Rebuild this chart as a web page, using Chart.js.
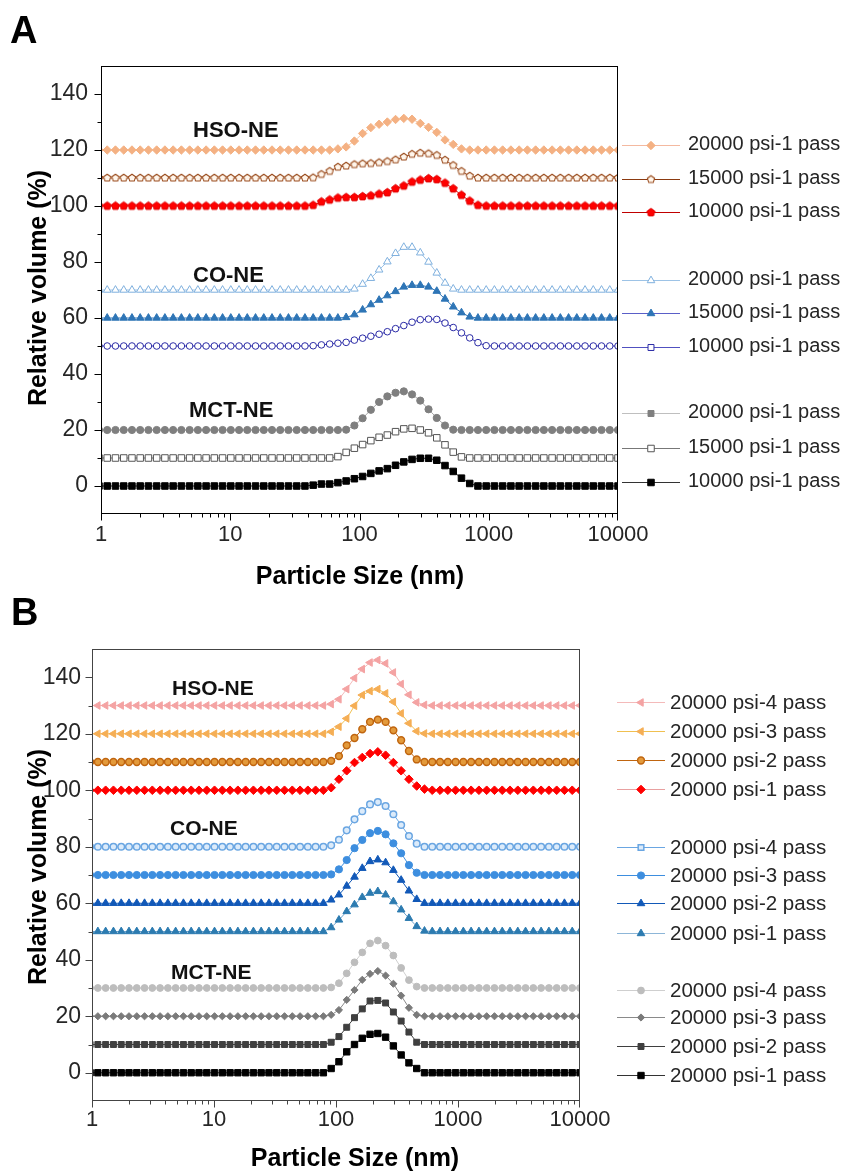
<!DOCTYPE html>
<html><head><meta charset="utf-8">
<script src="https://cdn.jsdelivr.net/npm/chart.js@4.4.0/dist/chart.umd.min.js"></script>
<style>
html,body{margin:0;padding:0;background:#fff;}
#wrap{position:relative;width:846px;height:1173px;overflow:hidden;background:#fff}
.pane{position:absolute;left:0;width:846px}
#pa{top:0;height:590px}
#pb{top:590px;height:583px}
canvas{display:block}
</style></head><body>
<div id="wrap">
<div class="pane" id="pa"><canvas id="ca" width="846" height="590"></canvas></div>
<div class="pane" id="pb"><canvas id="cb" width="846" height="583"></canvas></div>
</div>
<script>
// ---------------- DATA ----------------
// particle size bins (nm), log-spaced instrument bins
const sizeNm = [0.9649,1.117,1.294,1.499,1.736,2.010,2.328,2.696,3.122,3.615,4.187,4.849,5.615,6.503,7.531,8.721,
 10.10,11.70,13.54,15.69,18.17,21.04,24.36,28.21,32.67,37.84,43.82,50.75,58.77,68.06,78.82,91.28,
 105.7,122.4,141.8,164.2,190.1,220.2,255.0,295.3,342.0,396.1,458.7,531.2,615.1,712.4,825.0,955.4,
 1106,1281,1484,1718,1990,2305,2669,3091,3580,4145,4801,5560,6439,7456,8635,10000];

const xTickValues = [1,10,100,1000,10000];
const yTickValues = [0,20,40,60,80,100,120,140];
const groupLabels = ['HSO-NE','CO-NE','MCT-NE'];

// Panel A: relative volume (%) per bin, before vertical offset
const aHso20000 = [0,0,0,0,0,0,0,0,0,0,0,0,0,0,0,0,0,0,0,0,0,0,0,0,0,
 0,0,0,0,0.4,1.1,3.2,5.9,8.0,9.2,10.0,10.9,11.3,11.0,9.5,8.1,6.3,3.6,2.0,0.4,0,0,0,0,0,
 0,0,0,0,0,0,0,0,0,0,0,0,0,0];
const aHso15000 = [0,0,0,0,0,0,0,0,0,0,0,0,0,0,0,0,0,0,0,0,0,0,0,0,0,
 0,0.1,1.3,2.4,3.9,4.3,4.8,5.1,5.2,5.5,5.9,6.5,7.5,8.5,8.9,8.7,8.1,6.4,4.5,2.4,0.7,0,0,0,0,
 0,0,0,0,0,0,0,0,0,0,0,0,0,0];
const aHso10000 = [0,0,0,0,0,0,0,0,0,0,0,0,0,0,0,0,0,0,0,0,0,0,0,0,0,
 0,0.3,1.5,2.2,2.9,3.1,3.1,3.4,3.7,4.3,4.8,6.2,7.2,8.6,9.3,9.8,9.5,8.2,6.2,3.9,1.8,0.3,0,0,0,
 0,0,0,0,0,0,0,0,0,0,0,0,0,0];
const aCo20000 = [0,0,0,0,0,0,0,0,0,0,0,0,0,0,0,0,0,0,0,0,0,0,0,0,0,
 0,0,0,0,0,0,0.4,2.1,4.2,7.2,10.1,13.1,15.3,15.3,13.3,10.0,6.1,2.5,0.4,0,0,0,0,0,0,
 0,0,0,0,0,0,0,0,0,0,0,0,0,0];
const aCo15000 = [0,0,0,0,0,0,0,0,0,0,0,0,0,0,0,0,0,0,0,0,0,0,0,0,0,
 0,0,0,0,0,0.2,1.2,2.9,4.8,6.4,8.0,9.5,11.1,11.7,11.7,11.1,9.6,6.8,4.0,1.9,0.4,0,0,0,0,
 0,0,0,0,0,0,0,0,0,0,0,0,0,0];
const aCo10000 = [0,0,0,0,0,0,0,0,0,0,0,0,0,0,0,0,0,0,0,0,0,0,0,0,0,
 0,0.1,0.4,0.7,1.0,1.3,2.1,2.8,3.5,4.2,5.1,6.2,7.3,8.5,9.4,9.6,9.5,8.2,6.6,4.7,2.9,1.2,0.1,0,0,
 0,0,0,0,0,0,0,0,0,0,0,0,0,0];
const aMct20000 = [0,0,0,0,0,0,0,0,0,0,0,0,0,0,0,0,0,0,0,0,0,0,0,0,0,
 0,0,0,0,0,0.1,1.6,4.2,7.2,10.0,12.0,13.3,13.8,12.7,10.5,7.4,4.3,1.6,0.1,0,0,0,0,0,0,
 0,0,0,0,0,0,0,0,0,0,0,0,0,0];
const aMct15000 = [0,0,0,0,0,0,0,0,0,0,0,0,0,0,0,0,0,0,0,0,0,0,0,0,0,
 0,0,0,0,0.5,2.0,3.5,4.8,6.2,7.4,8.2,9.4,10.4,10.6,10.0,9.0,7.2,4.7,2.1,0.4,0,0,0,0,0,
 0,0,0,0,0,0,0,0,0,0,0,0,0,0];
const aMct10000 = [0,0,0,0,0,0,0,0,0,0,0,0,0,0,0,0,0,0,0,0,0,0,0,0,0,
 0,0.3,0.7,0.7,1.2,1.8,2.6,3.4,4.5,5.4,6.2,7.4,8.6,9.5,9.9,9.9,9.2,7.3,5.2,2.8,0.9,0,0,0,0,
 0,0,0,0,0,0,0,0,0,0,0,0,0,0];
const offsetsA = [120,110,100,70,60,50,20,10,0];
const legendA = ['20000 psi-1 pass','15000 psi-1 pass','10000 psi-1 pass',
                 '20000 psi-1 pass','15000 psi-1 pass','10000 psi-1 pass',
                 '20000 psi-1 pass','15000 psi-1 pass','10000 psi-1 pass'];

// Panel B
const bHso4 = [0,0,0,0,0,0,0,0,0,0,0,0,0,0,0,0,0,0,0,0,0,0,0,0,0,
 0,0,0,0,0,0,0.5,2.2,5.8,9.7,12.9,15.2,16.1,14.9,11.7,7.6,3.8,1.1,0.2,0,0,0,0,0,0,
 0,0,0,0,0,0,0,0,0,0,0,0,0,0];
const bHso3 = [0,0,0,0,0,0,0,0,0,0,0,0,0,0,0,0,0,0,0,0,0,0,0,0,0,
 0,0,0,0,0,0,0.7,2.5,5.4,9.9,13.7,15.1,15.8,14.3,11.3,7.2,3.7,0.9,0.1,0,0,0,0,0,0,
 0,0,0,0,0,0,0,0,0,0,0,0,0,0];
const bHso2 = [0,0,0,0,0,0,0,0,0,0,0,0,0,0,0,0,0,0,0,0,0,0,0,0,0,
 0,0,0,0,0,0,0.4,2.1,5.9,8.5,11.6,14.2,15.0,14.2,11.2,7.7,3.9,0.9,0,0,0,0,0,0,0,
 0,0,0,0,0,0,0,0,0,0,0,0,0,0];
const bHso1 = [0,0,0,0,0,0,0,0,0,0,0,0,0,0,0,0,0,0,0,0,0,0,0,0,0,
 0,0,0,0,0,0,0.9,3.9,6.9,9.8,11.6,13.0,13.6,12.4,9.8,6.9,3.9,1.5,0.4,0,0,0,0,0,0,
 0,0,0,0,0,0,0,0,0,0,0,0,0,0];
const bCo4 = [0,0,0,0,0,0,0,0,0,0,0,0,0,0,0,0,0,0,0,0,0,0,0,0,0,
 0,0,0,0,0,0,0.5,2.5,5.8,9.7,12.6,15.0,15.8,14.4,11.5,7.7,3.8,1.1,0,0,0,0,0,0,0,
 0,0,0,0,0,0,0,0,0,0,0,0,0,0];
const bCo3 = [0,0,0,0,0,0,0,0,0,0,0,0,0,0,0,0,0,0,0,0,0,0,0,0,0,
 0,0,0,0,0,0,0.2,2.0,5.3,9.5,12.4,14.8,15.6,14.4,11.2,7.7,3.5,0.8,0,0,0,0,0,0,0,
 0,0,0,0,0,0,0,0,0,0,0,0,0,0];
const bCo2 = [0,0,0,0,0,0,0,0,0,0,0,0,0,0,0,0,0,0,0,0,0,0,0,0,0,
 0,0,0,0,0,0,1.2,3.0,6.1,9.3,12.4,14.8,15.4,14.4,11.7,8.2,4.4,1.4,0,0,0,0,0,0,0,
 0,0,0,0,0,0,0,0,0,0,0,0,0,0];
const bCo1 = [0,0,0,0,0,0,0,0,0,0,0,0,0,0,0,0,0,0,0,0,0,0,0,0,0,
 0,0,0,0,0,0,1.4,4.1,7.1,9.5,12.1,13.6,14.2,13.0,10.6,7.7,4.7,1.8,0.2,0,0,0,0,0,0,
 0,0,0,0,0,0,0,0,0,0,0,0,0,0];
const bMct4 = [0,0,0,0,0,0,0,0,0,0,0,0,0,0,0,0,0,0,0,0,0,0,0,0,0,
 0,0,0,0,0,0,0.2,1.7,5.2,9.1,12.6,15.8,16.8,15.0,11.5,7.1,2.8,0.5,0,0,0,0,0,0,0,
 0,0,0,0,0,0,0,0,0,0,0,0,0,0];
const bMct3 = [0,0,0,0,0,0,0,0,0,0,0,0,0,0,0,0,0,0,0,0,0,0,0,0,0,
 0,0,0,0,0,0,0.5,2.2,5.8,9.3,12.9,15.0,16.0,14.4,11.5,7.3,3.0,0.5,0,0,0,0,0,0,0,
 0,0,0,0,0,0,0,0,0,0,0,0,0,0];
const bMct2 = [0,0,0,0,0,0,0,0,0,0,0,0,0,0,0,0,0,0,0,0,0,0,0,0,0,
 0,0,0,0,0,0,0.8,2.8,6.1,9.5,12.6,15.4,15.6,14.7,11.5,8.3,4.4,0.8,0,0,0,0,0,0,0,
 0,0,0,0,0,0,0,0,0,0,0,0,0,0];
const bMct1 = [0,0,0,0,0,0,0,0,0,0,0,0,0,0,0,0,0,0,0,0,0,0,0,0,0,
 0,0,0,0,0,0,1.5,3.9,7.4,10.0,12.2,13.6,13.9,12.6,9.5,6.3,3.5,1.5,0,0,0,0,0,0,0,
 0,0,0,0,0,0,0,0,0,0,0,0,0,0];
const offsetsB = [130,120,110,100,80,70,60,50,30,20,10,0];
const legendB = ['20000 psi-4 pass','20000 psi-3 pass','20000 psi-2 pass','20000 psi-1 pass',
                 '20000 psi-4 pass','20000 psi-3 pass','20000 psi-2 pass','20000 psi-1 pass',
                 '20000 psi-4 pass','20000 psi-3 pass','20000 psi-2 pass','20000 psi-1 pass'];

// ---------------- STYLE ----------------
const FONT = '"Liberation Sans", Arial, Helvetica, sans-serif';

function polyMarker(n, r, fill, stroke, lw){
  const s = Math.ceil(2*r + lw + 3);
  const c = document.createElement('canvas'); c.width = s; c.height = s;
  const g = c.getContext('2d'); g.beginPath();
  for (let i=0;i<n;i++){
    const a = -Math.PI/2 + i*2*Math.PI/n;
    const px = s/2 + r*Math.cos(a), py = s/2 + r*Math.sin(a);
    if (i) g.lineTo(px,py); else g.moveTo(px,py);
  }
  g.closePath(); g.fillStyle = fill; g.fill();
  if (lw){ g.lineWidth = lw; g.strokeStyle = stroke; g.stroke(); }
  return c;
}

const stylesA = [
  {ps:'rectRot', r:4.2, fill:'#F4B183', stroke:'#F4B183', bw:1, line:'#F8C9A8', legLine:'#F4B9A0'},
  {ps:polyMarker(5,3.8,'#FFF6EC','#9A4B1C',1.1), r:4, fill:'#fff', stroke:'#9A4B1C', bw:1, line:'#A0522D', legLine:'#8B3A10'},
  {ps:polyMarker(5,4.2,'#FF0000','#E00000',1), r:4, fill:'#FF0000', stroke:'#E00000', bw:1, line:'#E00000', legLine:'#C00000'},
  {ps:'triangle', r:4.4, fill:'#FFFFFF', stroke:'#7FB0DE', bw:1, line:'#9DC3E6', legLine:'#9DC3E6'},
  {ps:'triangle', r:4.4, fill:'#2E75B6', stroke:'#2E75B6', bw:1, line:'#2E75B6', legLine:'#5A5FC8'},
  {ps:'circle', r:3.3, fill:'#FFFFFF', stroke:'#2B2BA6', bw:1, line:'#3535B0', legLine:'#5050C0', legPs:'rect', legR:4.2},
  {ps:'circle', r:3.6, fill:'#7F7F7F', stroke:'#7F7F7F', bw:1, line:'#A6A6A6', legLine:'#BFBFBF', legPs:'rect', legR:4.2},
  {ps:'rect', r:4.6, fill:'#FFFFFF', stroke:'#555555', bw:1, line:'#666666', legLine:'#777777'},
  {ps:'rect', r:4.6, fill:'#000000', stroke:'#000000', bw:1, line:'#222222', legLine:'#333333'}
];
const stylesB = [
  {ps:'triangle', rot:-90, r:4.4, fill:'#F4A3A3', stroke:'#F4A3A3', bw:1, line:'#F4BABA'},
  {ps:'triangle', rot:-90, r:4.4, fill:'#F5AE55', stroke:'#F5AE55', bw:1, line:'#F0C050'},
  {ps:'circle', r:3.4, fill:'#E39A3B', stroke:'#C0650F', bw:1.5, line:'#C0650F'},
  {ps:'rectRot', r:4.3, fill:'#FF0000', stroke:'#FF0000', bw:1, line:'#F07070', legLine:'#E8A0A0'},
  {ps:'circle', r:3.3, fill:'#DCEBFA', stroke:'#6AA6E2', bw:1.5, line:'#6AA6E2', legPs:'rect', legR:4},
  {ps:'circle', r:3.6, fill:'#3D8EDF', stroke:'#3D8EDF', bw:1, line:'#3D8EDF'},
  {ps:'triangle', r:4.4, fill:'#1259B8', stroke:'#1259B8', bw:1, line:'#1259B8'},
  {ps:'triangle', r:4.4, fill:'#2C7BB0', stroke:'#2C7BB0', bw:1, line:'#6FA2CC', legLine:'#8DB6D8'},
  {ps:'circle', r:3.4, fill:'#BDBDBD', stroke:'#BDBDBD', bw:1, line:'#CFCFCF'},
  {ps:'rectRot', r:3.6, fill:'#7A7A7A', stroke:'#7A7A7A', bw:1, line:'#8A8A8A'},
  {ps:'rect', r:4.2, fill:'#3F3F3F', stroke:'#3F3F3F', bw:1, line:'#3F3F3F'},
  {ps:'rect', r:4.5, fill:'#000000', stroke:'#000000', bw:1, line:'#333333'}
];

const panelA = {
  canvas:'ca', values:[aHso20000,aHso15000,aHso10000,aCo20000,aCo15000,aCo10000,aMct20000,aMct15000,aMct10000],
  offsets:offsetsA, legend:legendA, styles:stylesA,
  yW:101, xH:76, padT:66, padR:228, xPad:8, yPad:13, xTickSize:22, yTickSize:23, axisColor:'#000',
  yTitle:{x:46, y:288, size:25}, xTitle:{x:360, y:584, size:25},
  letter:{x:10, y:43, t:'A'},
  groups:[{x:193,y:137},{x:193,y:282},{x:189,y:417}], groupSize:22,
  leg:{x0:622, x1:680, mx:651, tx:688, dy:5, size:20, ys:[145,179,212,280,313,347,413,448,482]}
};
const panelB = {
  canvas:'cb', values:[bHso4,bHso3,bHso2,bHso1,bCo4,bCo3,bCo2,bCo1,bMct4,bMct3,bMct2,bMct1],
  offsets:offsetsB, legend:legendB, styles:stylesB,
  yW:92, xH:72, padT:59, padR:266, xPad:6, yPad:11, xTickSize:22, yTickSize:23, axisColor:'#444',
  yTitle:{x:46, y:277, size:25}, xTitle:{x:355, y:576, size:25},
  letter:{x:11, y:35, t:'B'},
  groups:[{x:172,y:105},{x:170,y:245},{x:171,y:389}], groupSize:21,
  leg:{x0:617, x1:665, mx:641, tx:670, dy:7, size:20.5, ys:[112,141,170,199,257,285,313,343,400,427,456,485]}
};

// ---------------- DRAWING ----------------
function drawMarker(ctx, st, x, y){
  const ps = st.legPs || st.ps;
  const r = st.legR || st.r;
  if (typeof ps !== 'string'){ ctx.drawImage(ps, x - ps.width/2, y - ps.height/2); return; }
  ctx.save();
  ctx.fillStyle = st.fill; ctx.strokeStyle = st.stroke; ctx.lineWidth = st.bw;
  ctx.beginPath();
  const rad = (st.rot||0)*Math.PI/180;
  if (ps === 'circle') ctx.arc(x,y,r,0,2*Math.PI);
  else if (ps === 'rect'){ const s = r*Math.SQRT1_2; ctx.rect(x-s,y-s,2*s,2*s); }
  else if (ps === 'rectRot'){ ctx.moveTo(x,y-r); ctx.lineTo(x+r,y); ctx.lineTo(x,y+r); ctx.lineTo(x-r,y); }
  else if (ps === 'triangle'){
    for (let i=0;i<3;i++){ const a = rad + i*2*Math.PI/3; const px = x+Math.sin(a)*r, py = y-Math.cos(a)*r; if(i) ctx.lineTo(px,py); else ctx.moveTo(px,py); }
  }
  ctx.closePath(); ctx.fill(); if (st.bw>0) ctx.stroke();
  ctx.restore();
}

function decoPlugin(P){
  return {
    id:'deco'+P.canvas,
    afterDraw(chart){
      const ctx = chart.ctx, ca = chart.chartArea, xs = chart.scales.x, ys = chart.scales.y;
      ctx.save();
      // frame
      ctx.strokeStyle = P.axisColor; ctx.lineWidth = 1;
      const L = Math.round(ca.left)+0.5, R = Math.round(ca.right)-0.5, T = Math.round(ca.top)+0.5, B = Math.round(ca.bottom)-0.5;
      ctx.strokeRect(L, T, R-L, B-T);
      // x ticks (major + minor)
      ctx.beginPath();
      for (const dec of [1,10,100,1000]){
        for (let m=1;m<10;m++){
          const px = Math.round(xs.getPixelForValue(dec*m))+0.5;
          const len = m===1 ? 7 : 4;
          ctx.moveTo(px, B); ctx.lineTo(px, B+len);
        }
      }
      { const px = Math.round(xs.getPixelForValue(10000))-0.5; ctx.moveTo(px,B); ctx.lineTo(px,B+7); }
      // y ticks
      for (let v=0; v<=140; v+=10){
        const py = Math.round(ys.getPixelForValue(v))+0.5;
        const len = v%20===0 ? 7 : 4;
        ctx.moveTo(L-len, py); ctx.lineTo(L, py);
      }
      ctx.stroke();
      // axis titles
      ctx.fillStyle = '#000';
      ctx.font = 'bold '+P.xTitle.size+'px '+FONT;
      ctx.textAlign = 'center'; ctx.textBaseline = 'alphabetic';
      ctx.fillText('Particle Size (nm)', P.xTitle.x, P.xTitle.y);
      ctx.save();
      ctx.translate(P.yTitle.x, P.yTitle.y); ctx.rotate(-Math.PI/2);
      ctx.font = 'bold '+P.yTitle.size+'px '+FONT;
      ctx.fillText('Relative volume (%)', 0, 0);
      ctx.restore();
      // panel letter
      ctx.textAlign = 'left';
      ctx.font = 'bold 38px '+FONT;
      ctx.fillText(P.letter.t, P.letter.x, P.letter.y);
      // group labels
      ctx.font = 'bold '+P.groupSize+'px '+FONT;
      ctx.fillStyle = '#111';
      P.groups.forEach((g,i)=> ctx.fillText(groupLabels[i], g.x, g.y));
      // legend
      const lg = P.leg;
      ctx.font = lg.size+'px '+FONT;
      P.styles.forEach((st,i)=>{
        const y = lg.ys[i];
        ctx.strokeStyle = st.legLine || st.line; ctx.lineWidth = 1.2;
        ctx.beginPath(); ctx.moveTo(lg.x0, y+0.5); ctx.lineTo(lg.x1, y+0.5); ctx.stroke();
        drawMarker(ctx, st, lg.mx, y+0.5);
        ctx.fillStyle = '#262626';
        ctx.fillText(P.legend[i], lg.tx, y+lg.dy);
      });
      ctx.restore();
    }
  };
}

function makeChart(P){
  const datasets = P.values.map((vals,i)=>{
    const st = P.styles[i];
    return {
      label: P.legend[i],
      data: vals.map((v,j)=>({x:sizeNm[j], y:P.offsets[i]+v})),
      borderColor: st.line, borderWidth: 1, tension: 0, fill: false,
      pointStyle: st.ps, pointRadius: st.r, pointHoverRadius: st.r, pointRotation: st.rot||0,
      pointBackgroundColor: st.fill, pointBorderColor: st.stroke, pointBorderWidth: st.bw
    };
  });
  return new Chart(document.getElementById(P.canvas), {
    type:'line',
    data:{datasets},
    options:{
      responsive:false, animation:false, devicePixelRatio:1, events:[],
      layout:{padding:{left:0, right:P.padR, top:P.padT, bottom:0}},
      plugins:{legend:{display:false}, tooltip:{enabled:false}, title:{display:false}},
      scales:{
        x:{type:'logarithmic', position:'bottom', min:1, max:10000,
           afterBuildTicks:s=>{ s.ticks = xTickValues.map(v=>({value:v})); },
           afterFit:s=>{ s.height = P.xH; },
           grid:{display:false, drawTicks:false}, border:{display:false},
           ticks:{autoSkip:false, maxRotation:0, minRotation:0, padding:P.xPad, color:'#262626',
                  font:{family:FONT, size:P.xTickSize}, callback:v=>String(v)}},
        y:{type:'linear', position:'left', min:-10, max:150,
           afterBuildTicks:s=>{ s.ticks = yTickValues.map(v=>({value:v})); },
           afterFit:s=>{ s.width = P.yW; },
           grid:{display:false, drawTicks:false}, border:{display:false},
           ticks:{padding:P.yPad, color:'#262626', font:{family:FONT, size:P.yTickSize}, callback:v=>String(v)}}
      }
    },
    plugins:[decoPlugin(P)]
  });
}

makeChart(panelA);
makeChart(panelB);
</script>
</body></html>
